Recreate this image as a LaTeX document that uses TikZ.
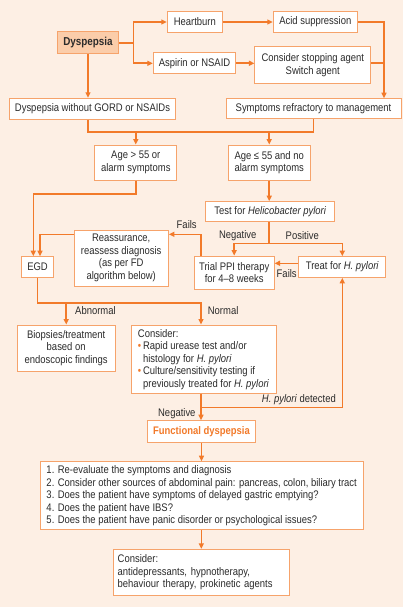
\documentclass[tikz,border=0pt]{standalone}
\usepackage{fontspec}
\setmainfont{Liberation Sans}[FakeStretch=0.86]
\usetikzlibrary{arrows.meta}
\definecolor{bg}{HTML}{FDEFE4}
\definecolor{flow}{HTML}{F27A2A}
\definecolor{edge}{HTML}{F6A36B}
\definecolor{dysfill}{HTML}{FBCDAA}
\definecolor{txt}{HTML}{2B2B2B}
\begin{document}
\begin{tikzpicture}[x=1pt, y=-1pt, font=\fontsize{11}{12.5}\selectfont, every node/.style={text=txt}]
\tikzstyle{box}=[draw=edge, fill=white, line width=1pt, inner sep=0pt, align=center]
\tikzstyle{lbox}=[box, align=left]
\tikzstyle{line}=[draw=flow, line width=1.6pt]
\tikzstyle{arr}=[line, -{Triangle[length=5.5pt, width=5pt]}]
\tikzstyle{lbl}=[inner sep=1pt]
\fill[bg] (0,0) rectangle (403,607);
\node[box, fill=dysfill, font=\fontsize{11.5}{13}\selectfont\bfseries, minimum width=61.4pt, minimum height=22.3pt] (dys) at (88,42.8) {Dyspepsia};
\node[box, minimum width=55pt, minimum height=20.6pt] (heart) at (194.8,22) {Heartburn};
\node[box, minimum width=84pt, minimum height=20.6pt] (acid) at (315.3,22) {Acid suppression};
\node[box, minimum width=82.4pt, minimum height=21.3pt] (aspirin) at (194.5,63.3) {Aspirin or NSAID};
\node[box, minimum width=115.7pt, minimum height=37.3pt] (stop) at (312.8,65.3) {Consider stopping agent\\Switch agent};
\node[box, minimum width=166.4pt, minimum height=21pt] (nogord) at (92.5,108.8) {Dyspepsia without GORD or NSAIDs};
\node[box, minimum width=175pt, minimum height=20.3pt] (refr) at (313.5,108.8) {Symptoms refractory to management};
\node[box, minimum width=81.7pt, minimum height=35pt] (old) at (135.8,162.5) {Age > 55 or\\alarm symptoms};
\node[box, minimum width=81.7pt, minimum height=35pt] (young) at (269.2,162.5) {Age ≤ 55 and no\\alarm symptoms};
\node[box, minimum width=129.3pt, minimum height=20pt] (test) at (270.3,211.7) {Test for \textit{Helicobacter pylori}};
\node[box, minimum width=94.3pt, minimum height=56pt] (reass) at (121.2,258) {Reassurance,\\reassess diagnosis\\(as per FD\\algorithm below)};
\node[box, minimum width=31.6pt, minimum height=20.6pt] (egd) at (37.5,267) {EGD};
\node[box, minimum width=79.7pt, minimum height=33.3pt] (ppi) at (234.2,272.7) {Trial PPI therapy\\for 4–8 weeks};
\node[box, minimum width=86.7pt, minimum height=20.6pt] (treat) at (342.3,267) {Treat for \textit{H. pylori}};
\node[box, minimum width=97.7pt, minimum height=46pt] (biop) at (66.2,348) {Biopsies/treatment\\based on\\endoscopic findings};
\node[lbox, minimum width=145pt, minimum height=68.3pt] (cons) at (203.5,359.2) {Consider:\\{\color{flow}\textbullet}\,Rapid urease test and/or\\\phantom{\textbullet\,}histology for \textit{H. pylori}\\{\color{flow}\textbullet}\,Culture/sensitivity testing if\\\phantom{\textbullet\,}previously treated for \textit{H. pylori}};
\node[box, text=flow, font=\fontsize{11}{12.5}\selectfont\bfseries, minimum width=108.4pt, minimum height=21.6pt] (func) at (201.5,431.5) {Functional dyspepsia};
\node[lbox, minimum width=323.3pt, minimum height=68.3pt] (list) at (201.7,495.8) {1. Re-evaluate the symptoms and diagnosis\\2. Consider other sources of abdominal pain: pancreas, colon, biliary tract\\3. Does the patient have symptoms of delayed gastric emptying?\\4. Does the patient have IBS?\\5. Does the patient have panic disorder or psychological issues?};
\node[lbox, inner xsep=4.4pt, text width=167.2pt, minimum height=45.7pt] (final) at (201.3,572.2) {Consider:\\antidepressants, hypnotherapy,\\behaviour therapy, prokinetic agents};
\coordinate (split1) at (133.3,42.8);
\coordinate (rcol) at (384,63.3);
\coordinate (bus1) at (0,131.7);
\coordinate (bus2) at (0,243.3);
\coordinate (bus3) at (0,302.7);
\coordinate (pup) at (201,234.3);
\coordinate (cmid) at (201,0);
\coordinate (hp) at (0,407.3);
\coordinate (fail2) at ([yshift=3.7pt]treat.west);
\coordinate (egdl) at ([xshift=-4.2pt]egd.north);
\coordinate (egdr) at ([xshift=2.5pt]egd.north);
\draw[line] (dys.east) -- (split1);
\draw[arr] (split1) |- (heart.west);
\draw[arr] (split1) |- (aspirin.west);
\draw[arr] (heart.east) -- (acid.west);
\draw[arr] (aspirin.east) -- (aspirin.east -| stop.west);
\draw[arr] (acid.east) -| (rcol |- refr.north);
\draw[line] (stop.east |- rcol) -- (rcol);
\draw[arr] (dys.south) -- (dys.south |- nogord.north);
\draw[line] (dys.south |- nogord.south) |- (refr.south |- bus1) -- (refr.south);
\draw[arr] (old.north |- bus1) -- (old.north);
\draw[arr] (young.north |- bus1) -- (young.north);
\draw[arr] (young.south) -- (young.south |- test.north);
\draw[line] (young.south |- test.south) -- (young.south |- bus2);
\draw[arr] (young.south |- bus2) -| (ppi.north);
\draw[arr] (young.south |- bus2) -| (treat.north);
\draw[arr] (fail2) -- (fail2 -| ppi.east);
\draw[arr] (ppi.north -| pup) |- (reass.east |- pup);
\draw[arr] (reass.west |- pup) -| (egdr);
\draw[arr] (old.south) -- ++(0,13.3) -| (egdl);
\draw[arr] (egd.south) |- (cmid |- bus3) -- (cmid |- cons.north);
\draw[arr] (biop.north |- bus3) -- (biop.north);
\draw[arr] (cmid |- cons.south) -- (cmid |- func.north);
\draw[arr] (cmid |- hp) -| (treat.south);
\draw[arr] (func.south) -- (func.south |- list.north);
\draw[arr] (final.north |- list.south) -- (final.north);
\node[lbl] (fails1) at (186.7,225) {Fails};
\node[lbl] (neg1) at (237.7,235.7) {Negative};
\node[lbl] (pos1) at (302.3,235.7) {Positive};
\node[lbl] (fails2) at (286.7,274) {Fails};
\node[lbl, anchor=west] (abn) at (74,311) {Abnormal};
\node[lbl, anchor=west] (norm) at (206.7,311) {Normal};
\node[lbl, anchor=east] (neg2) at (196.7,413.3) {Negative};
\node[lbl, anchor=east] (hpdet) at (337,399.3) {\textit{H. pylori} detected};
\end{tikzpicture}
\end{document}
